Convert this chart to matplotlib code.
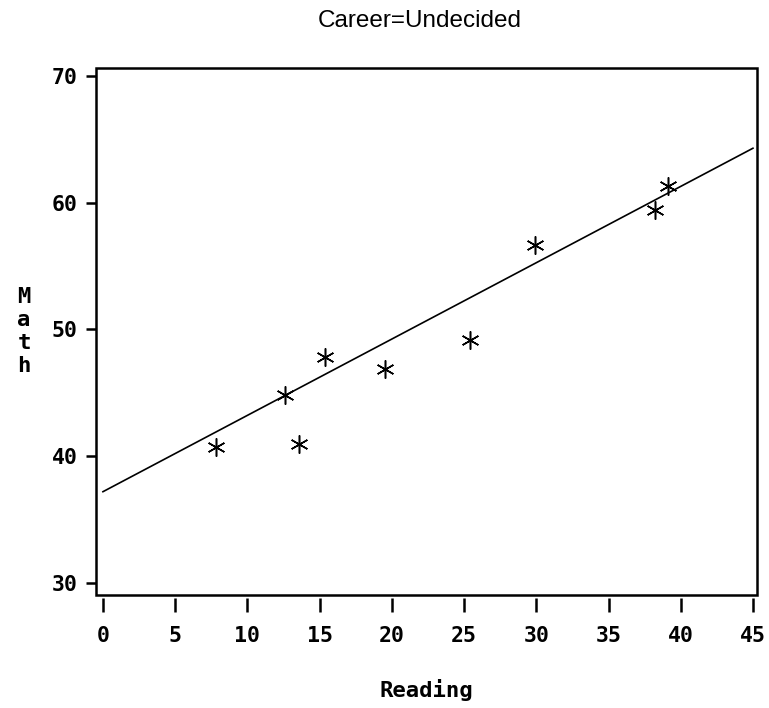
import numpy as np
import matplotlib.pyplot as plt
from matplotlib.patches import Rectangle

# data
reading = [7.8, 12.6, 13.6, 15.4, 19.5, 25.4, 29.9, 38.2, 39.1]
math = [40.7, 44.8, 41.0, 47.8, 46.9, 49.2, 56.7, 59.4, 61.3]
fit_x = [0, 45]
fit_y = [37.2, 64.3]
xticks = [0, 5, 10, 15, 20, 25, 30, 35, 40, 45]
yticks = [30, 40, 50, 60, 70]

fig = plt.figure(figsize=(7.69, 7.08), dpi=100)
ax = fig.add_axes([96/769, 113/708, 661/769, 527/708])

ax.plot(fit_x, fit_y, color='black', lw=1.2)
ax.plot(reading, math, ls='none', marker=(6, 2, 0), ms=13, mew=1.1, color='black')

ax.set_xlim(-0.48, 45.28)
ax.set_ylim(29.05, 70.63)

# box around plot area, x ticks hang below it
ax.add_patch(Rectangle((0, 0), 1, 1, transform=ax.transAxes, fill=False,
                       lw=1.8, ec='black', clip_on=False, zorder=5))
for s in ax.spines.values():
    s.set_visible(False)
ax.spines['bottom'].set_position(('outward', 2))

ax.set_xticks(xticks)
ax.set_yticks(yticks)
mono = {'family': 'DejaVu Sans Mono', 'weight': 'bold', 'size': 15.5}
ax.set_xticklabels([str(t) for t in xticks], fontdict=mono)
ax.set_yticklabels([str(t) for t in yticks], fontdict=mono)
ax.tick_params(axis='x', direction='out', length=10, width=1.8, pad=10)
ax.tick_params(axis='y', direction='out', length=7, width=1.8, pad=6)

lab = dict(mono, size=16)
ax.set_xlabel('Reading', fontdict=lab, labelpad=24)
ax.set_ylabel('M\na\nt\nh', fontdict=lab, rotation=0, va='center',
              linespacing=1.2, labelpad=20)

fig.text(0.546, 0.970, 'Career=Undecided', ha='center', va='center',
         family='Liberation Sans', fontsize=17.5)

fig.savefig('out.png', dpi=100)
